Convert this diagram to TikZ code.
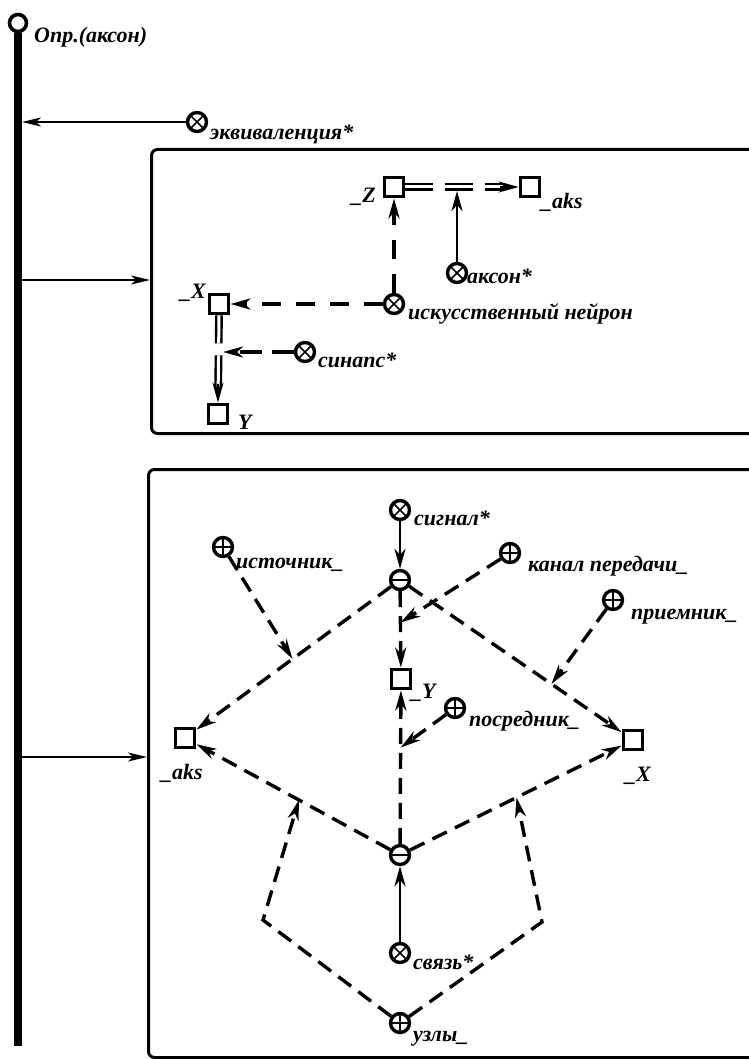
\documentclass[tikz,border=0pt]{standalone}
\usepackage{fontspec}
\setmainfont{Liberation Serif}
\usetikzlibrary{arrows.meta,calc}
\begin{document}
\begin{tikzpicture}[x=1pt,y=-1pt,
  lab/.style={font=\fontsize{22}{26}\selectfont\bfseries\itshape, inner sep=0pt},
  sq/.style={draw, line width=3.8pt, minimum size=19pt, inner sep=0pt, fill=white},
  crc/.style={circle, draw, line width=3.4pt, minimum size=19pt, inner sep=0pt, fill=white},
  ox/.style={crc, path picture={\draw[line width=1.6pt] (path picture bounding box.north west)--(path picture bounding box.south east) (path picture bounding box.north east)--(path picture bounding box.south west);}},
  op/.style={crc, path picture={\draw[line width=2.2pt] (path picture bounding box.north)--(path picture bounding box.south) (path picture bounding box.east)--(path picture bounding box.west);}},
  om/.style={crc, path picture={\draw[line width=2.8pt] (path picture bounding box.east)--(path picture bounding box.west);}},
  arr/.style={-{Stealth[length=20pt,width=11pt,inset=6pt]}},
  thinarr/.style={line width=2.2pt, -{Stealth[length=19pt,width=9pt,inset=5pt]}},
  sol/.style={line width=2.8pt},
  ld/.style={line width=3.4pt, dash pattern=on 16pt off 9pt},
  ud/.style={line width=3.4pt, dash pattern=on 19pt off 15pt},
  dbl/.style={double, double distance=3pt, line width=2.4pt},
  frame/.style={draw, line width=3pt, rounded corners=6pt, anchor=north west, minimum width=620pt}
]
\useasboundingbox (0,0) rectangle (748,1059);

% main bar
\node[circle, draw, line width=3.6pt, minimum size=17pt, inner sep=0pt] (top) at (18,23) {};
\coordinate (bot) at (18,1046);
\draw[line width=8.5pt] (top.south) -- (bot);
\coordinate (b1) at (22,122);
\coordinate (b2) at (18,280);
\coordinate (b3) at (18,757);
\node[lab, anchor=base west] (ltop) at (34,43) {Опр.(аксон)};

\node[ox] (ekv) at (197,122) {};
\node[lab, anchor=base west] (lekv) at (210,140) {эквиваленция*};
\draw[thinarr] (ekv) -- (b1);

% frames
\node[frame, minimum height=284pt] (box1) at (150,148) {};
\node[frame, minimum height=588pt] (box2) at (147,468) {};
\draw[thinarr] (b2) -- (b2 -| box1.west);
\draw[thinarr] (b3) -- (b3 -| box2.west);

% upper frame
\node[sq] (Z) at (394,187) {};
\node[sq] (aks) at (530,187) {};
\node[ox] (akson) at (457,273) {};
\node[ox] (neur) at (394,304) {};
\node[sq] (X) at (219,304) {};
\node[sq] (Y) at (218,414) {};
\node[ox] (syn) at (305,352) {};
\coordinate (j1) at (457,191);
\coordinate (j2) at (223,352);
\coordinate (aksin) at ($(aks.west)+(-19,0)$);
\coordinate (yin) at ($(Y.north)+(0,-19)$);

\node[lab, anchor=base east] (lZ) at (376,203) {\_Z};
\node[lab, anchor=base west] (laks) at (541,209) {\_aks};
\node[lab, anchor=base west] (lakson) at (467,283) {аксон*};
\node[lab, anchor=base west] (lneur) at (408,319) {искусственный нейрон};
\node[lab, anchor=base east] (lX) at (206,298) {\_X};
\node[lab, anchor=base west] (lsyn) at (318,367) {синапс*};
\node[lab, anchor=base west] (lY) at (238,429) {Y};

\draw[dbl, dash pattern=on 28pt off 12pt on 28pt off 12pt on 40pt, shorten >=15pt] (Z.east) -- (aks.west);
\draw[line width=2.4pt, arr] (aksin) -- (aks.west);
\draw[sol, arr] (akson) -- (j1);
\draw[ud, arr] (neur) -- (Z);
\draw[ud, arr] (neur) -- (X);
\draw[dbl, dash pattern=on 28pt off 12pt on 40pt, shorten >=15pt] (X.south) -- (Y.north);
\draw[line width=2.4pt, arr] (yin) -- (Y.north);
\draw[ud, dash pattern=on 22pt off 10pt, arr] (syn) -- (j2);

% lower frame
\node[ox] (sig) at (400,510) {};
\node[om] (m1) at (400,580) {};
\node[op] (ist) at (223,547) {};
\node[op] (kan) at (510,553) {};
\node[op] (pri) at (613,600) {};
\node[sq] (YL) at (401,679) {};
\node[op] (pos) at (455,708) {};
\node[sq] (aksL) at (185,738) {};
\node[sq] (XL) at (633,740) {};
\node[om] (m2) at (400,855) {};
\node[ox] (svz) at (400,953) {};
\node[op] (uzl) at (400,1023) {};

\node[lab, anchor=base west] (lsig) at (414,525) {сигнал*};
\node[lab, anchor=base west] (list) at (236,568) {источник\_};
\node[lab, anchor=base west] (lkan) at (528,571) {канал передачи\_};
\node[lab, anchor=base west] (lpri) at (631,619) {приемник\_};
\node[lab, anchor=base west] (lYL) at (411,698) {\_Y};
\node[lab, anchor=base west] (lpos) at (469,726) {посредник\_};
\node[lab, anchor=base west] (laksL) at (161,779) {\_aks};
\node[lab, anchor=base west] (lXL) at (625,781) {\_X};
\node[lab, anchor=base west] (lsvz) at (413,969) {связь*};
\node[lab, anchor=base west] (luzl) at (413,1041) {узлы\_};

\coordinate (p1) at ($(m1)!0.5!(aksL)$);
\coordinate (p2) at ($(m1)!0.43!(YL)$);
\coordinate (p3) at ($(m1)!0.65!(XL)$);
\coordinate (p4) at ($(m2)!0.61!(YL)$);
\coordinate (p5) at ($(m2)!0.47!(aksL)$);
\coordinate (p6) at ($(m2)!0.5!(XL)$);
\coordinate (c1) at (263,920);
\coordinate (c2) at (542,922);

\draw[sol, arr] (sig) -- (m1);
\draw[ld, arr] (m1) -- (aksL);
\draw[ld, arr] (m1) -- (XL);
\draw[ld, arr] (m1) -- (YL);
\draw[ld, arr] (ist) -- (p1);
\draw[ld, arr] (kan) -- (p2);
\draw[ld, arr] (pri) -- (p3);
\draw[ld, arr] (pos) -- (p4);
\draw[ld, arr] (m2) -- (aksL);
\draw[ld, arr] (m2) -- (XL);
\draw[ld, arr] (m2) -- (YL);
\draw[sol, arr] (svz) -- (m2);
\draw[ld, arr] (uzl) -- (c1) -- (p5);
\draw[ld, arr] (uzl) -- (c2) -- (p6);
\end{tikzpicture}
\end{document}
